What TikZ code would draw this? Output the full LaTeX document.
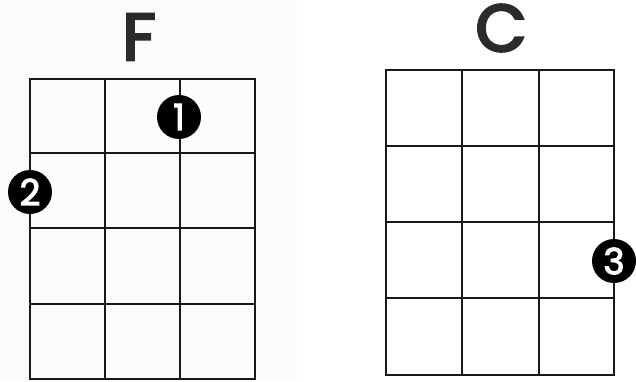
\documentclass[tikz,border=0pt]{standalone}
\usepackage{fontspec}
\setmainfont{Poppins}
\newfontfamily\chordfont{Poppins}[FakeBold=4]
\newfontfamily\digitfont{Poppins}[FakeBold=3]
\definecolor{inkgrey}{HTML}{2B2B2B}
\definecolor{panelbg}{HTML}{FCFCFC}
\tikzset{
  gridline/.style={line width=2.2pt, draw=black!90},
  chordname/.style={font=\chordfont\fontsize{66}{66}\selectfont, text=inkgrey, inner sep=0pt, anchor=center},
  finger/.style={circle, fill=black, minimum size=44pt, inner sep=0pt, text=white, font=\digitfont\fontsize{36}{36}\selectfont},
}
\begin{document}
\begin{tikzpicture}[x=1pt,y=-1pt]
\useasboundingbox (0,0) rectangle (636,381);
\fill[white] (0,0) rectangle (636,381);
\fill[panelbg] (0,0) rectangle (297,381);
% F chord
\node[chordname] (fname) at (139,37) {F};
\draw[gridline] (30,79) rectangle (255,379);
\foreach \x in {105,180} \draw[gridline] (\x,79) -- (\x,379);
\foreach \y in {153,228,304} \draw[gridline] (30,\y) -- (255,\y);
\node[finger] (f1) at (179,117) {1};
\node[finger] (f2) at (30,192) {2};
% C chord
\node[chordname] (cname) at (501,28) {C};
\draw[gridline] (386,70) rectangle (614,375);
\foreach \x in {462,539} \draw[gridline] (\x,70) -- (\x,375);
\foreach \y in {146,222,298} \draw[gridline] (386,\y) -- (614,\y);
\node[finger] (c3) at (614,261) {3};
\end{tikzpicture}
\end{document}
